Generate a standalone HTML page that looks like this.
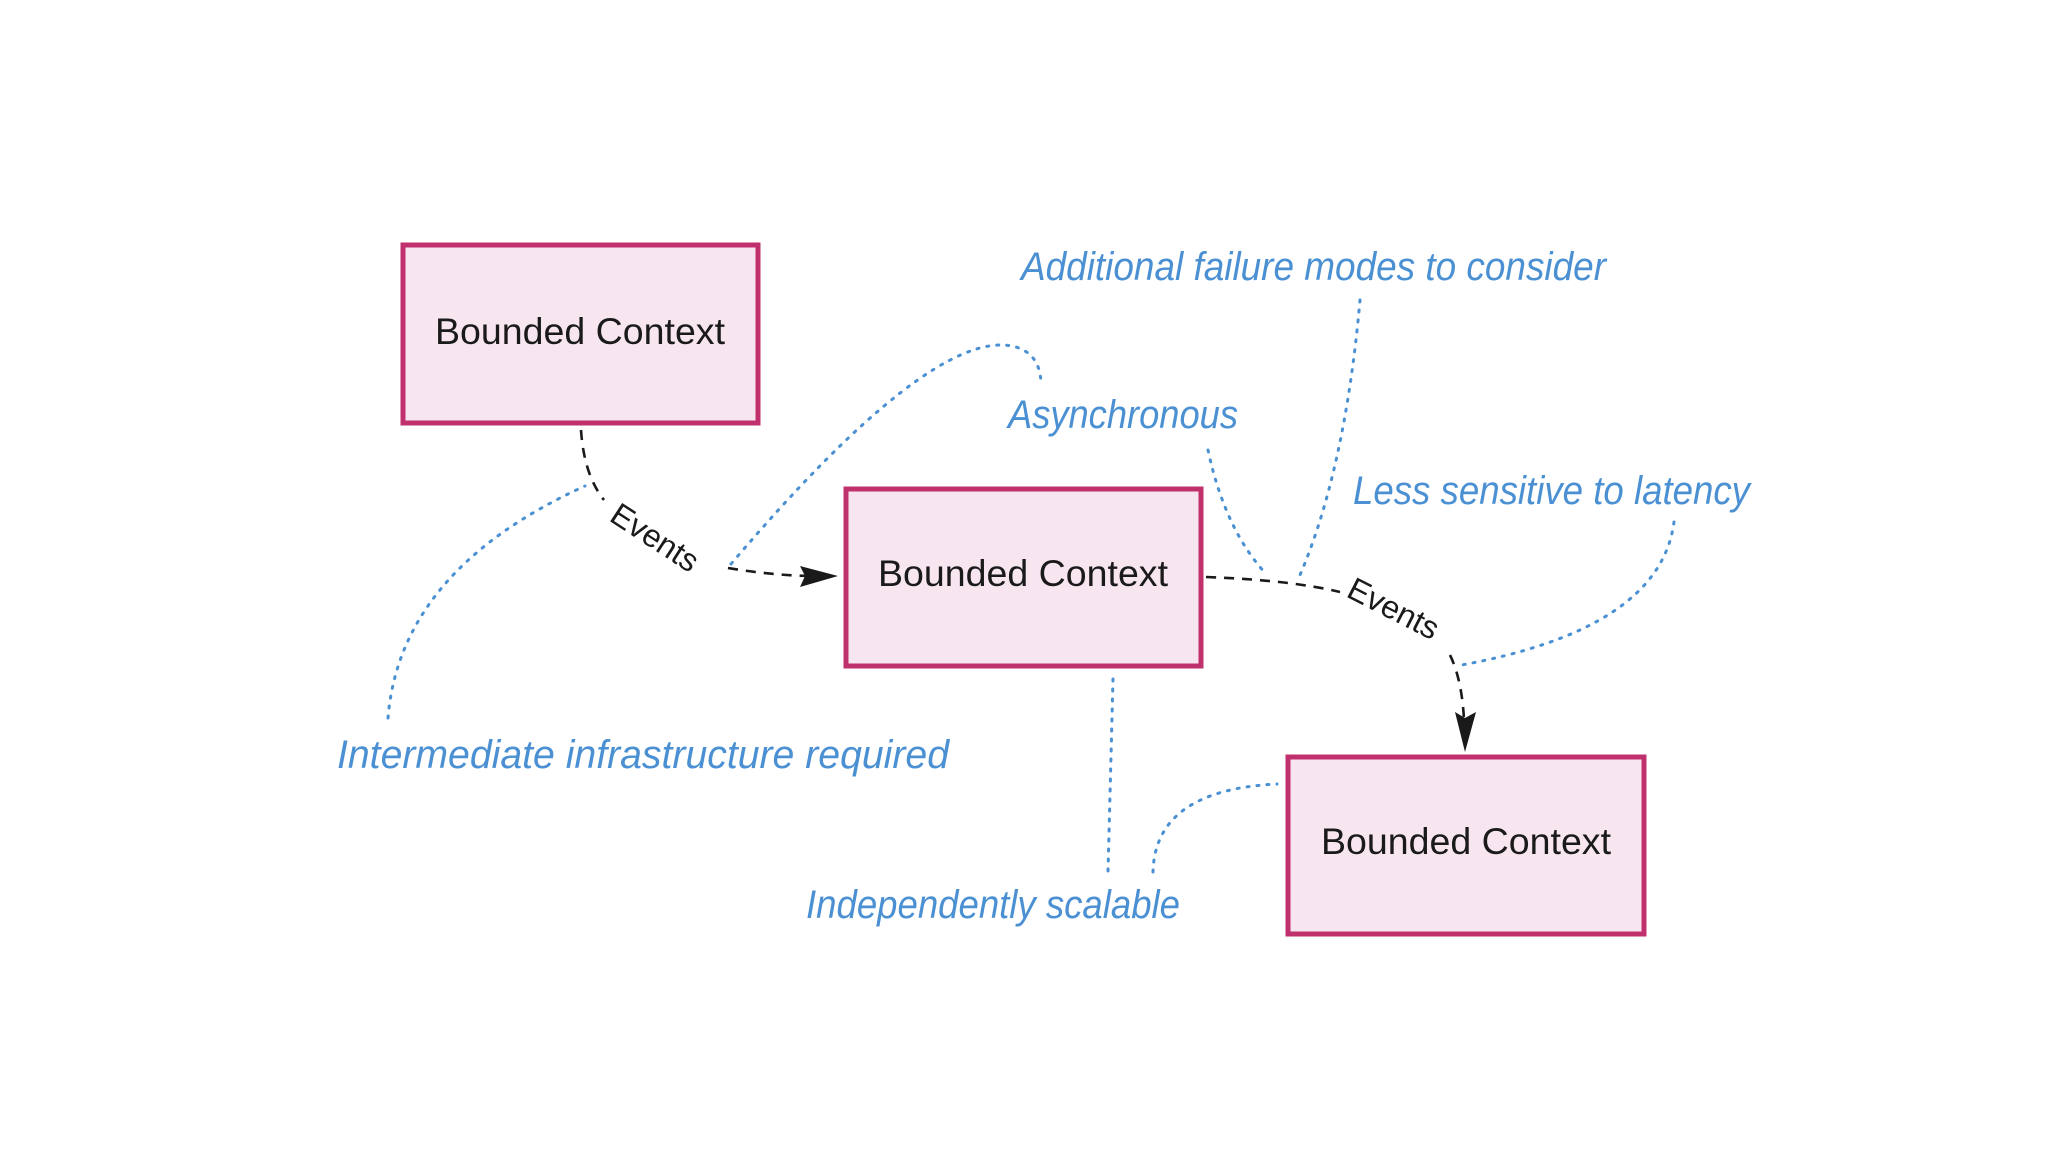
<!DOCTYPE html>
<html><head><meta charset="utf-8"><style>
html,body{margin:0;padding:0;background:#fff;}
svg{display:block;}
.bc{font-family:"Liberation Sans",sans-serif;font-size:37px;fill:#1a1a1a;}
.hw{font-family:"Liberation Sans Narrow","Liberation Sans",sans-serif;font-style:italic;font-size:40px;fill:#4a90d2;}
.ev{font-family:"Liberation Sans",sans-serif;font-size:32px;fill:#1a1a1a;}
.dot{fill:none;stroke:#4a90d2;stroke-width:3;stroke-dasharray:2 8;stroke-linecap:round;}
.dash{fill:none;stroke:#1a1a1a;stroke-width:2.6;stroke-dasharray:10 8;}
</style></head><body>
<svg width="2048" height="1152" viewBox="0 0 2048 1152">
<rect width="2048" height="1152" fill="#fff"/>
<rect x="403" y="245" width="355" height="178" fill="#f7e6f0" stroke="#c0306c" stroke-width="5"/>
<text class="bc" x="580" y="344" text-anchor="middle" textLength="290" lengthAdjust="spacingAndGlyphs">Bounded Context</text>
<rect x="846" y="489" width="355" height="177" fill="#f7e6f0" stroke="#c0306c" stroke-width="5"/>
<text class="bc" x="1023" y="586" text-anchor="middle" textLength="290" lengthAdjust="spacingAndGlyphs">Bounded Context</text>
<rect x="1288" y="757" width="356" height="177" fill="#f7e6f0" stroke="#c0306c" stroke-width="5"/>
<text class="bc" x="1466" y="854" text-anchor="middle" textLength="290" lengthAdjust="spacingAndGlyphs">Bounded Context</text>

<path class="dash" d="M581,430 Q584,475 604,500"/>
<path class="dash" d="M728,568 Q770,575 808,576"/>
<polygon points="838,576 800,566 805,576 800,587" fill="#1a1a1a"/>
<text class="ev" transform="translate(608,520) rotate(33)">Events</text>

<path class="dash" d="M1206,577 Q1290,580 1340,592"/>
<path class="dash" d="M1450,655 Q1462,680 1464,720"/>
<polygon points="1465,752 1455,712 1465,718 1476,712" fill="#1a1a1a"/>
<text class="ev" transform="translate(1345,596) rotate(27)">Events</text>

<path class="dot" d="M388,718 Q400,570 585,486"/>
<path class="dot" d="M731,564 Q930,330 1012,346 Q1040,352 1041,383"/>
<path class="dot" d="M1208,450 Q1225,530 1267,575"/>
<path class="dot" d="M1360,300 Q1345,470 1300,575"/>
<path class="dot" d="M1674,522 Q1660,630 1456,666"/>
<path class="dot" d="M1113,679 L1108,872"/>
<path class="dot" d="M1153,872 Q1155,790 1277,784"/>

<text class="hw" x="1021" y="280" textLength="585" lengthAdjust="spacingAndGlyphs">Additional failure modes to consider</text>
<text class="hw" x="1008" y="428" textLength="230" lengthAdjust="spacingAndGlyphs">Asynchronous</text>
<text class="hw" x="1353" y="504" textLength="397" lengthAdjust="spacingAndGlyphs">Less sensitive to latency</text>
<text class="hw" x="337" y="768" textLength="612" lengthAdjust="spacingAndGlyphs">Intermediate infrastructure required</text>
<text class="hw" x="806" y="918" textLength="374" lengthAdjust="spacingAndGlyphs">Independently scalable</text>
</svg>
</body></html>
